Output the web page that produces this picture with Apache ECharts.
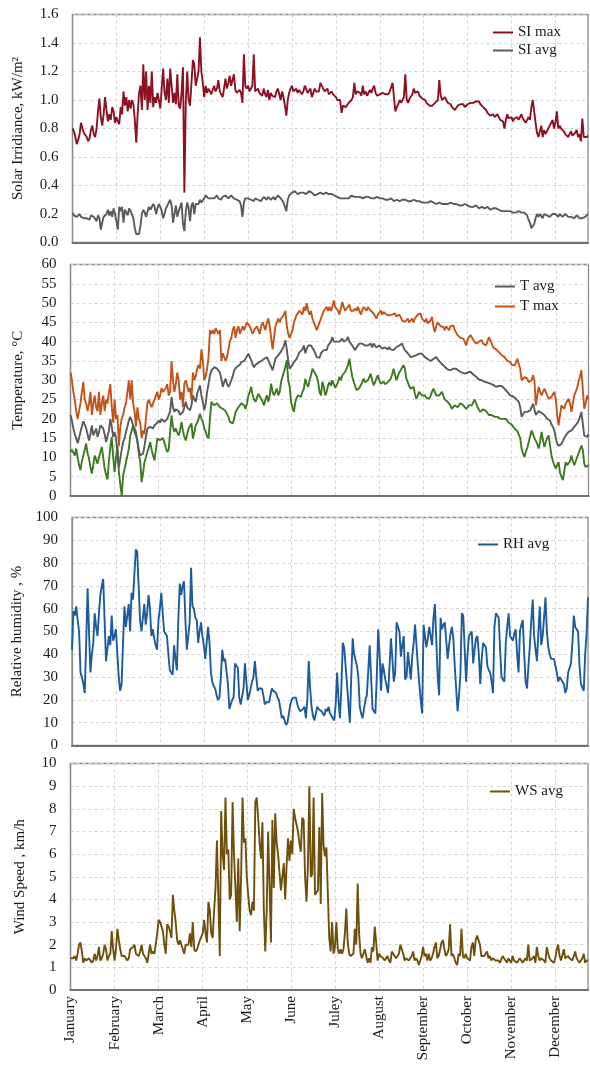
<!DOCTYPE html>
<html>
<head>
<meta charset="utf-8">
<script src="https://cdn.jsdelivr.net/npm/echarts@6/dist/echarts.min.js"></script>
<style>
html,body{margin:0;padding:0;background:#fff;}
#chart{width:590px;height:1065px;}
</style>
</head>
<body>
<div id="chart"></div>
<script>
// ---------- DATA ----------
const months = ['January','February','March','April','May','June','Juley','August','September','October','November','December'];
const monthStep = 31;

const siMax = [
0.80,0.78,0.74,0.69,0.72,0.76,0.84,0.80,0.77,0.76,
0.74,0.71,0.73,0.79,0.82,0.76,0.74,0.80,0.92,1.01,
0.88,0.82,0.90,1.02,0.93,0.85,0.90,0.86,0.95,0.92,
0.84,0.88,0.85,0.83,0.95,0.90,1.06,0.96,1.02,0.92,
1.00,0.94,1.00,0.97,0.86,0.70,0.90,1.05,1.10,0.93,
1.25,1.00,1.20,0.93,1.10,0.98,1.20,0.95,1.02,0.98,
1.05,1.00,0.94,0.93,1.22,1.05,1.00,1.15,0.98,1.22,
1.10,0.98,1.05,0.97,1.18,0.96,0.94,1.05,1.23,0.35,
0.98,1.20,1.00,0.96,0.95,1.28,1.25,1.10,1.15,1.20,
1.44,1.20,1.12,1.02,1.10,1.05,1.08,1.07,1.04,1.03,
1.10,1.06,1.08,1.14,1.06,1.04,1.02,1.08,1.15,1.08,
1.12,1.17,1.10,1.14,1.18,1.07,1.05,1.06,1.07,1.05,
0.98,1.32,1.10,1.08,1.10,1.06,1.08,1.10,1.32,1.06,
1.06,1.08,1.05,1.06,1.03,1.08,1.04,1.02,1.07,1.00,
1.05,1.03,1.04,1.02,1.06,1.08,1.04,1.00,1.06,1.02,
0.96,0.89,1.00,1.05,1.08,1.10,1.06,1.07,1.08,1.05,
1.07,1.08,1.04,1.06,1.10,1.08,1.05,1.06,1.08,1.02,
1.05,1.08,1.06,1.07,1.06,1.12,1.13,1.08,1.06,1.07,
1.08,1.04,1.05,1.06,1.04,1.03,1.02,1.00,1.01,1.00,
0.91,0.96,0.97,0.95,0.96,0.98,0.97,1.00,1.02,1.12,
1.04,1.06,1.07,1.05,1.03,1.10,1.04,1.06,1.03,1.04,
1.07,1.05,1.08,1.10,1.05,1.03,1.02,1.04,1.03,1.05,
1.06,1.04,1.03,1.04,1.06,1.05,1.12,1.02,0.92,0.95,
0.97,1.00,0.98,0.99,1.02,1.18,1.00,0.98,1.01,1.00,
1.04,1.08,1.05,1.04,1.06,1.03,1.02,1.01,1.00,1.00,
0.98,0.97,0.96,0.97,0.96,0.97,0.98,0.99,1.00,1.14,
1.03,1.00,0.99,1.02,1.00,0.98,0.99,0.97,0.95,0.96,
0.93,0.94,0.96,0.95,0.97,0.98,0.97,0.95,0.96,0.97,
0.96,0.98,0.97,0.98,0.97,0.99,0.98,0.99,0.97,0.96,
0.95,0.95,0.93,0.91,0.90,0.89,0.89,0.90,0.88,0.89,
0.90,0.88,0.86,0.87,0.85,0.80,0.86,0.90,0.87,0.86,
0.88,0.85,0.87,0.86,0.88,0.86,0.88,0.90,0.87,0.86,
0.84,0.85,0.88,0.86,0.95,1.00,0.92,0.84,0.77,0.74,
0.78,0.82,0.74,0.79,0.76,0.75,0.80,0.82,0.81,0.86,
0.80,0.84,0.92,0.80,0.82,0.80,0.81,0.78,0.76,0.75,
0.74,0.76,0.78,0.75,0.76,0.77,0.79,0.74,0.76,0.71,
0.87,0.74,0.75,0.74,0.75];

const siAvg = [
0.21,0.19,0.19,0.18,0.19,0.20,0.18,0.19,0.17,0.18,
0.17,0.18,0.16,0.19,0.20,0.18,0.17,0.15,0.19,0.17,
0.09,0.14,0.18,0.17,0.20,0.23,0.19,0.22,0.18,0.24,
0.20,0.15,0.09,0.25,0.22,0.25,0.14,0.23,0.22,0.19,
0.24,0.22,0.23,0.17,0.10,0.06,0.07,0.06,0.12,0.20,
0.23,0.21,0.18,0.22,0.25,0.23,0.24,0.27,0.25,0.20,
0.24,0.27,0.25,0.22,0.17,0.20,0.24,0.26,0.27,0.30,
0.26,0.14,0.20,0.26,0.18,0.22,0.25,0.28,0.13,0.08,
0.22,0.28,0.24,0.15,0.26,0.28,0.20,0.27,0.26,0.27,
0.30,0.28,0.29,0.31,0.33,0.32,0.31,0.32,0.31,0.32,
0.31,0.32,0.33,0.31,0.32,0.30,0.32,0.31,0.33,0.32,
0.31,0.32,0.33,0.32,0.31,0.32,0.30,0.31,0.29,0.26,
0.18,0.28,0.31,0.32,0.31,0.32,0.30,0.31,0.29,0.31,
0.32,0.30,0.31,0.29,0.30,0.32,0.31,0.30,0.32,0.31,
0.30,0.31,0.32,0.30,0.31,0.33,0.32,0.31,0.30,0.28,
0.25,0.22,0.30,0.33,0.34,0.35,0.35,0.36,0.35,0.34,
0.35,0.35,0.36,0.35,0.35,0.34,0.35,0.36,0.35,0.35,
0.34,0.33,0.32,0.34,0.35,0.35,0.35,0.34,0.34,0.35,
0.34,0.34,0.33,0.34,0.34,0.33,0.33,0.32,0.33,0.31,
0.30,0.31,0.32,0.31,0.32,0.31,0.32,0.33,0.32,0.32,
0.33,0.32,0.33,0.32,0.32,0.31,0.32,0.32,0.31,0.32,
0.32,0.31,0.32,0.31,0.31,0.32,0.31,0.31,0.30,0.31,
0.31,0.30,0.31,0.30,0.30,0.31,0.30,0.29,0.30,0.30,
0.30,0.29,0.30,0.30,0.29,0.30,0.30,0.29,0.30,0.29,
0.29,0.30,0.29,0.29,0.28,0.29,0.29,0.28,0.29,0.28,
0.29,0.28,0.28,0.29,0.28,0.28,0.28,0.27,0.28,0.28,
0.28,0.27,0.28,0.27,0.28,0.27,0.27,0.28,0.27,0.27,
0.26,0.27,0.27,0.26,0.27,0.26,0.26,0.27,0.26,0.26,
0.26,0.25,0.26,0.25,0.25,0.26,0.25,0.24,0.25,0.25,
0.25,0.24,0.24,0.25,0.24,0.23,0.24,0.24,0.23,0.24,
0.23,0.23,0.24,0.22,0.23,0.22,0.23,0.22,0.21,0.22,
0.22,0.21,0.22,0.21,0.21,0.22,0.21,0.21,0.20,0.21,
0.20,0.19,0.16,0.14,0.10,0.09,0.13,0.17,0.20,0.18,
0.20,0.19,0.17,0.20,0.21,0.19,0.20,0.18,0.19,0.20,
0.19,0.20,0.19,0.18,0.20,0.19,0.18,0.19,0.20,0.19,
0.18,0.19,0.18,0.19,0.17,0.18,0.19,0.18,0.17,0.18,
0.17,0.18,0.18,0.19,0.20];

const tMax = [
32,30,27,25,22,20,22,24,27,29.5,
25,24,22,24,27,21,24,26,23,22,
27,21,24,26,22,25,24,27,29,23,
19,25,20,21,13,18,20,21,23,24,
27,30,25,30,24,22,18,23,20,19,
15,17,16,20,24,25,24,23,24,25,
26,27,25,26,28,27,27,28,29,26,
27,35,30,27,29,32,30,25,27,23,
29,30,30,27,28,25,32,30,31,33,
34,33,38,35,30,31,33,36,43,42,
43,42,43.5,43,42,43,35,37,37,35,
36,38,40,41,43,44,41,43,44,42,
43,44,43,43,45,45.5,44,44,42,43,
43,44,43,42,44,45,44,43,45,46,
44,44,38,41,44,45,46,45,46,46,
47,48,44,42,41,42,43,45,46,47,
47,48,48,47,49,48,50,48,47,48,
46,45,44,43,44,45,46,47,48,48,
49,48,49,48,49,50.7,49,48.6,48,47,
47,50.3,49,48,48.6,49,49.6,48,47.7,48,
48.6,48,49,48,47,48.1,49,49,48,49,
49.4,48,48.5,47.3,47,46,47,47.5,48.1,47,
47.7,47.7,47,47.5,46.8,46.8,47,47.5,47.3,46.5,
46.4,47,46.4,45.5,46,45.1,45.5,46,45,45.5,
46,45,46,45.5,47,46.5,47.3,46,45.5,45.1,
46,44.7,44.7,45.5,46.4,44,42.5,44,45,45.5,
44,44.5,43.8,43,44,43.5,43,44,43.5,44.2,
43,42.5,41.7,41.7,41,40.8,40.8,40,39,40.5,
41,41.7,41.7,40.5,40,39.5,39.5,40,40.4,40.4,
39.5,39,39,40,41.2,41.2,39.5,38.5,38.2,38,
37.5,37.3,37.3,36.5,36,36,35.5,35,35,34.7,
34,34,33.9,34.5,35.6,35.6,33,30,30.5,30.8,
30.4,30.4,29.5,29.1,30,31.3,30,23.5,26,28.3,
27,26.1,27,27.8,27,26,25.2,25.5,25.7,26,
27,25,21,18.3,21,23.5,23,22.6,24,23.5,
25.2,24,21.8,24,26.1,27,28,29.6,31,32.6,
33,22.6,24,26.1,25];

const tAvg = [
21,19.5,17.5,16,15,13.7,15,16.6,18,19.4,
18.5,17.5,16,14.4,16,18.3,15.7,16.5,17.5,15.3,
16.5,18.3,18,17.5,16,14,15.5,17,20,18,
15.3,16.6,15,10.5,7.5,9.7,12,14,15,16.6,
18,19.6,20.5,19.5,18.3,16.5,15.7,14.4,12,10.5,
11,11,13,15.3,17.5,17,17.9,17.5,17.5,18.3,
18,19,19.6,19,20,19.5,19.2,19.5,20,21,
22,25.7,23,21.8,22.5,23,22,21,21.5,21.8,
23,24.4,23,22.6,22.2,23.5,26.1,25,24.4,26.5,
27,28.7,26,24.4,22.2,24,27,29,31.3,32.5,
33,33.4,33.4,33,33,32,30.4,28.3,29.5,30.4,
29,28.3,29,30,31,32.6,33,33.5,33.9,34,
34.7,35,35,35.6,36,36.9,36,35.2,34,33.4,
34,34.3,34.5,34.7,35,35.2,35.5,35,36,35.5,
34.3,33.5,32.6,34,35.6,36,36.5,36.9,37.5,38.2,
39,40.4,38,35,33,33.5,34,34.7,35,35.6,
36.5,37.3,37,38,39,37,38.2,39,39.5,39,
39.5,37.8,37,36,35.6,35.8,37,37.5,37.8,38,
37.8,39,39.5,40,41.2,40,39.5,40,39.5,40,
40.5,40.8,40,39.5,40.5,41.2,40,39.5,39,38.5,
37.8,38.5,39,39.5,39,39.5,39.5,39,39.5,39,
39,39.5,38.5,39.5,39,38.5,39,39,38.5,38.2,
38.2,38.5,38.6,38,38.6,38,37.8,37.8,38.2,38.6,
38.6,39,39.2,39.5,38.5,37.8,37.3,37,36.5,36,
36,36.2,36.5,36.5,36.8,36.9,37,36.9,36.5,36,
35.6,35.5,35.2,35,35.2,35.5,35.8,36,35.5,35,
34.7,34.2,33.8,33.5,33,32.8,32.6,32.6,32.6,33,
33,33,32.6,32.4,32.2,32,32,31.7,31.7,32,
32.2,32.2,32,31.5,31,30.9,30.5,30.2,30,30,
29.8,29.6,29.6,29.4,29.1,29.1,29,28.8,28.5,28.3,
28.3,28.5,28.7,28.5,28,27.8,27.5,27,26.5,26.1,
26,25.8,25.5,25.2,25,24.4,23,20.5,21,21.8,
22,21.8,22,22.2,23,23.9,22.5,21,21.5,22,
21.8,21.5,21.8,21,20.5,20,20.5,19.5,18.5,17.9,
17,15,13.6,13,12.7,13.5,14,15,15.7,16,
16.6,16.2,17,17.5,17.9,18.3,18.8,19.5,20.5,21.8,
22,15.7,16,15.3,16];

const tMin = [
11.4,12,11.8,10.5,12.3,10,8,6.7,9,10.5,
12,13.6,11,9.7,7.5,5.8,8,10.5,9.5,8.4,
10,11.4,12.7,10,7.1,5.5,4.3,9,12.7,15.3,
10,6.2,10,13.1,6.2,3,0,5.4,7,8.8,
10.5,12.3,15.7,17,18.3,17.5,16.6,14,11,8.8,
3.6,6,8.8,10,11.4,12.5,14,12,10.5,9.2,
12,14.9,15.3,14.5,14,15,14.9,12.5,11.4,12,
11.8,20.9,18,16.6,17.5,16.5,15.7,17,19.2,17,
15.3,14.4,16,17.5,18,18.8,14.9,16.5,18.3,19,
20,21.3,20,19.2,17.5,16.6,15.5,14.9,20,24.4,
24,23.5,23.8,24,23.5,23,23,22.6,22.2,22,
21.8,20.5,19.2,19,18.8,20,21.8,22.2,23,23.5,
24,24.4,23.5,22.6,24,26.1,27,28.3,26.1,25,
24.4,25.5,26.5,25.8,25.2,24.5,23.5,25,26.1,24.4,
26,29.1,27,26.1,27,27.8,26.1,27,29.6,31,
32.2,33.5,35.2,30,28.3,24.4,23,21.8,24.4,25.5,
26.1,26,25.7,27,27.8,30.4,29,28.3,30,31.3,
33,33.4,31.7,31,29.6,27,26.1,29.6,28.3,26.1,
27,28.7,29.5,28.5,30,29,28,27.8,29.5,30.9,
30,31.3,31,32.2,33,34,35.6,33,30.9,29.6,
28.5,27.4,27.8,28,28.3,29.5,30.4,29.5,29.1,30,
30.5,31.7,30,28.7,29.5,30.5,31.3,30,29.1,29.5,
29.6,29,28.7,29.5,29,30.4,31.5,33,31.5,30,
31,32,32.6,33,33.9,33,30.4,29.5,28.5,27.8,
28,28.3,26.5,25.2,26,27,26.5,26,26.5,26.1,
25.5,25.5,25.2,26,27,27.8,27,26.1,26.5,26,
26.5,27,26,25,25.5,24.4,24,23.5,22.6,23,
23.5,23.5,23,23.5,24,24,23.5,23,22.6,23,
23.5,23,23.5,24,25,25.2,23,22.5,21.8,22,
22.5,22.6,22,21.5,21,20.9,21,20.5,20.5,20.5,
20.5,20,20,20.5,20,20,20,19.5,19,18.8,
18.5,18,17.5,17,16.8,16.6,15,12.3,11,10.1,
11.5,12.5,14,15.5,17,16,15,14.9,13.5,12.3,
14,16.6,14.5,12.7,14,15,15.7,13,10.5,9,
8,7.1,8,8.8,6,5,4.1,6.5,8.8,8,
7.5,9,10.5,9,8,9,10,10.5,12,13.1,
12,8.4,7.5,7.1,8];

const rhAvg = [
42,59,57,61,55,50,32,30,27,23,
45,69,50,32,40,45,58,52,48,58,
66,70,73,55,37,37,48,44,57,46,
48,51,40,30,24,27,45,61,52,57,
62,50,67,64,75,86,85,70,55,50,
50,62,53,58,66,60,48,51,47,44,
42,55,60,67,58,50,49,48,40,33,
32,31,44,38,33,55,71,66,70,72,
55,42,48,54,78,61,60,56,55,45,
50,54,48,44,38,45,52,45,32,28,
26,25,22,20,21,30,42,37,38,38,
27,16,18,20,21,36,35,34,21,18,
18,25,36,28,20,22,25,28,30,37,
30,24,25,25,25,22,18,19,19,19,
22,25,24,24,23,21,20,16,12,13,
11,9,10,14,18,20,21,21,21,18,
16,15,15,16,17,12,20,37,25,17,
13,11,14,17,16,16,15,14,13,16,
15,17,14,13,12,11,18,32,20,12,
25,45,43,43,27,18,10,30,47,40,
40,35,30,17,14,12,12,20,22,33,
44,30,16,15,14,30,51,40,24,36,
33,29,26,23,35,47,38,28,32,54,
52,50,39,44,48,29,30,41,35,29,
39,45,53,44,35,27,20,14,53,48,
43,47,52,48,44,56,62,46,30,22,
56,51,53,54,46,38,44,49,52,47,
35,25,15,22,31,58,57,57,28,40,
48,49,50,36,42,47,48,40,27,38,
45,44,43,35,33,32,28,23,52,58,
57,56,42,30,29,28,45,52,58,48,
47,46,49,51,40,32,50,53,55,40,
28,25,35,44,55,64,48,42,37,50,
61,44,48,56,65,50,43,40,38,38,
38,35,32,28,30,30,28,27,23,25,
32,34,36,45,57,52,51,50,35,27,
27,24,40,49,65];

const wsAvg = [
1.4,1.4,1.4,1.5,1.3,1.6,2.0,2.1,1.7,1.2,
1.4,1.3,1.3,1.4,1.4,1.2,1.3,1.6,1.3,1.5,
1.9,1.3,1.4,1.6,2.0,1.8,1.3,1.5,1.6,2.6,
1.8,1.3,1.8,2.7,2.2,1.8,1.5,1.5,1.5,1.4,
1.3,1.4,1.8,1.8,1.9,2.0,1.6,1.6,1.5,1.7,
2.0,1.6,1.5,1.4,1.2,1.6,2.0,1.6,1.7,1.6,
1.6,2.5,3.1,3.0,3.0,2.6,2.0,1.6,2.9,2.8,
2.6,2.3,4.2,3.5,3.0,2.2,2.0,2.2,2.0,1.8,
1.6,2.0,2.0,2.0,2.5,1.9,3.0,1.8,1.7,1.8,
2.0,2.2,2.2,2.5,3.1,2.5,2.1,3.9,3.5,2.5,
2.3,3.5,4.5,6.6,4.0,1.5,7.9,6.0,5.3,8.5,
6.0,6.2,4.0,4.2,8.3,6.0,4.5,3.0,5.8,2.6,
5.0,8.5,6.5,6.7,5.0,4.2,3.5,3.3,3.9,3.5,
8.3,8.5,7.6,6.5,5.8,7.4,3.5,1.7,3.5,7.0,
4.6,2.1,7.5,4.5,7.8,6.5,6.0,5.2,4.4,5.0,
5.6,4.0,5.5,6.7,5.7,6.6,6.0,8.0,7.6,7.6,
7.0,6.5,6.1,7.6,7.5,5.0,3.9,5.5,9.0,5.0,
5.1,8.5,4.2,4.3,4.4,7.2,3.8,8.7,6.4,5.9,
6.3,6.3,2.3,1.7,3.0,1.6,1.9,3.0,1.8,1.6,
1.8,1.6,1.8,2.5,3.6,2.1,1.6,1.5,1.5,1.6,
2.7,2.0,4.7,2.5,1.6,1.4,1.6,1.8,1.8,1.2,
1.4,1.2,1.9,1.7,2.8,2.1,1.3,1.6,1.5,1.5,
1.4,1.3,1.4,1.5,1.3,1.2,1.7,1.6,1.5,1.4,
1.4,1.6,2.0,1.8,1.6,1.3,1.4,1.4,1.3,1.4,
1.5,1.7,1.3,1.4,1.3,1.1,1.3,1.5,1.9,1.5,
1.6,1.3,1.6,1.3,1.4,1.6,1.9,2.1,1.4,1.5,
1.8,2.1,2.2,1.8,1.5,1.6,1.8,2.9,1.5,1.6,
1.4,1.2,1.1,1.6,1.5,2.7,1.5,1.4,1.6,1.4,
1.4,1.3,1.9,2.1,1.5,2.2,2.4,2.4,2.0,1.5,
1.5,1.5,1.6,1.7,1.4,1.5,1.3,1.4,1.4,1.3,
1.3,1.3,1.2,1.2,1.5,1.4,1.4,1.2,1.4,1.3,
1.2,1.5,1.3,1.3,1.2,1.2,1.4,1.3,1.2,1.3,
1.4,1.3,2.0,1.3,1.3,1.4,1.5,1.2,1.9,1.5,
1.3,1.4,1.4,1.3,1.2,1.9,1.6,1.4,1.3,1.3,
1.2,1.4,1.8,2.0,1.5,1.3,1.3,1.8,1.4,1.4,
1.5,1.4,1.4,1.3,1.5,1.7,1.4,1.3,1.2,1.3,
1.4,1.6,1.2,1.3,1.3];

// day categories (1..365)
const days = siMax.map((_, i) => String(i + 1));

// ---------- CHART ----------
const FONT = 'Liberation Serif';
const TXT = '#1a1a1a';
const isMonth = (i) => i % monthStep === 0;

const grids = [
  {left: 72.5, right: 2, top: 14.5, height: 228},
  {left: 70.5, right: 1.5, top: 264.5, height: 231.5},
  {left: 72,   right: 2, top: 517.5, height: 228},
  {left: 70.5, right: 2, top: 763.5, height: 226.5}
].map(g => Object.assign({show: true, borderColor: '#8c8c8c', borderWidth: 1.3, backgroundColor: '#fff'}, g));

function xAxis(idx, showLabels) {
  return {
    type: 'category', gridIndex: idx, data: days, boundaryGap: false,
    axisTick: {show: false},
    axisLine: {show: true, lineStyle: {color: '#6f6f6f', width: 2}},
    splitLine: {show: true, interval: (i) => isMonth(i), lineStyle: {color: '#d4d4d4', type: [3, 3], width: 1}},
    axisLabel: showLabels ? {
      show: true, interval: (i) => isMonth(i), rotate: 90, margin: 6,
      fontFamily: FONT, fontSize: 15, color: TXT,
      formatter: (v, i) => isMonth(i) ? months[i / monthStep] : ''
    } : {show: false}
  };
}

function yAxis(idx, name, min, max, interval, fmt, nameGap) {
  return {
    type: 'value', gridIndex: idx, min: min, max: max, interval: interval,
    name: name, nameLocation: 'middle', nameRotate: 90, nameGap: nameGap,
    nameTextStyle: {fontFamily: FONT, fontSize: 15, color: TXT},
    axisLine: {show: true, lineStyle: {color: '#8c8c8c', width: 1.3}},
    axisTick: {show: false},
    splitLine: {show: true, lineStyle: {color: '#d4d4d4', type: [3, 3], width: 1}},
    axisLabel: {fontFamily: FONT, fontSize: 15, color: TXT, margin: 14, formatter: fmt}
  };
}

function line(name, xi, data, color) {
  return {
    type: 'line', name: name, xAxisIndex: xi, yAxisIndex: xi, data: data,
    showSymbol: false, symbol: 'none', smooth: false,
    lineStyle: {width: 1.9, color: color}, itemStyle: {color: color},
    emphasis: {disabled: true}, animation: false
  };
}

function legend(names, left, top, gap) {
  return {
    data: names, orient: 'vertical', left: left, top: top, itemGap: gap,
    icon: 'rect', itemWidth: 20, itemHeight: 2,
    textStyle: {fontFamily: FONT, fontSize: 15, color: TXT},
    selectedMode: false
  };
}

const option = {
  backgroundColor: '#fff',
  animation: false,
  grid: grids,
  xAxis: [xAxis(0, false), xAxis(1, false), xAxis(2, false), xAxis(3, true)],
  yAxis: [
    yAxis(0, 'Solar Irridiance, kW/m\u00B2', 0, 1.6, 0.2, (v) => v.toFixed(1), 47),
    yAxis(1, 'Temperature, \u00B0C', 0, 60, 5, (v) => String(v), 45),
    yAxis(2, 'Relative humidity , %', 0, 100, 10, (v) => String(v), 46),
    yAxis(3, 'Wind Speed , km/h', 0, 10, 1, (v) => String(v), 43)
  ],
  legend: [
    legend(['SI max', 'SI avg'], 488, 20, 3),
    legend(['T avg', 'T max'], 490, 274, 5),
    legend(['RH avg'], 473, 532, 4),
    legend(['WS avg'], 485, 779, 4)
  ],
  series: [
    line('SI max', 0, siMax, '#8b1222'),
    line('SI avg', 0, siAvg, '#5a5a5a'),
    line('T min', 1, tMin, '#3d7a1f'),
    line('T avg', 1, tAvg, '#5a5a5a'),
    line('T max', 1, tMax, '#c2541a'),
    line('RH avg', 2, rhAvg, '#1d5b9c'),
    line('WS avg', 3, wsAvg, '#6e4f0c')
  ]
};

const chart = echarts.init(document.getElementById('chart'), null, {renderer: 'canvas'});
chart.setOption(option);
</script>
</body>
</html>
